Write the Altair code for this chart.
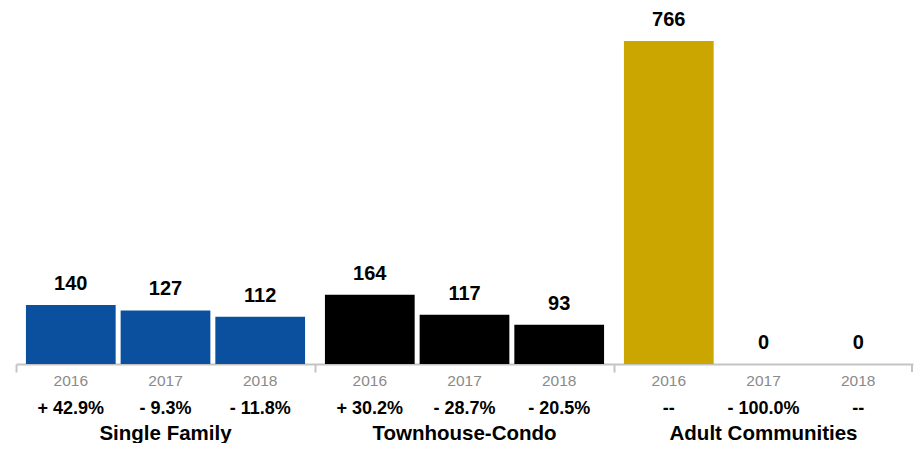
import altair as alt
import pandas as pd

groups = ["Single Family", "Townhouse-Condo", "Adult Communities"]
years = ["2016", "2017", "2018"]
single_family = [140, 127, 112]
townhouse_condo = [164, 117, 93]
adult_communities = [766, 0, 0]
pct_single_family = ["+ 42.9%", "- 9.3%", "- 11.8%"]
pct_townhouse_condo = ["+ 30.2%", "- 28.7%", "- 20.5%"]
pct_adult_communities = ["--", "- 100.0%", "--"]
colors = ["#0B4F9F", "#000000", "#CBA600"]

rows = []
for g, vals, pcts in zip(groups,
                         [single_family, townhouse_condo, adult_communities],
                         [pct_single_family, pct_townhouse_condo, pct_adult_communities]):
    for y, v, p in zip(years, vals, pcts):
        rows.append({"group": g, "year": y, "value": v, "pct": p})
df = pd.DataFrame(rows)

W, H = 897, 323
FONT = "Liberation Sans"
AXIS_GREY = "#c4c4c4"

x = alt.X("group:N", sort=groups,
          scale=alt.Scale(paddingInner=0, paddingOuter=0),
          axis=alt.Axis(labels=False, title=None, domain=True, domainColor=AXIS_GREY,
                        domainWidth=2, ticks=True, tickColor=AXIS_GREY, tickWidth=2,
                        tickSize=8, bandPosition=0, grid=False))
xo = alt.XOffset("year:N", sort=years,
                 scale=alt.Scale(paddingInner=0.0526, paddingOuter=0.105))
y = alt.Y("value:Q", scale=alt.Scale(domain=[0, max(adult_communities)], nice=False),
          axis=None)

base = alt.Chart(df)

bars = base.mark_bar().encode(
    x=x, xOffset=xo, y=y,
    color=alt.Color("group:N", scale=alt.Scale(domain=groups, range=colors), legend=None),
)

val_text = base.mark_text(font=FONT, fontWeight="bold", fontSize=20, baseline="alphabetic",
                          dy=-15, color="#000").encode(
    x=x, xOffset=xo, y=y, text="value:Q")

year_text = base.mark_text(font=FONT, fontSize=15.5, color="#8a8a8a",
                           baseline="alphabetic").encode(
    x=x, xOffset=xo, y=alt.value(H + 22), text="year:N")

pct_text = base.mark_text(font=FONT, fontWeight="bold", fontSize=18, color="#000",
                          baseline="alphabetic").encode(
    x=x, xOffset=xo, y=alt.value(H + 50), text="pct:N")

grp_df = pd.DataFrame({"group": groups})
grp_text = alt.Chart(grp_df).mark_text(font=FONT, fontWeight="bold", fontSize=20.5,
                                       color="#000", baseline="alphabetic").encode(
    x=alt.X("group:N", sort=groups), y=alt.value(H + 76), text="group:N")

end_tick = alt.Chart(grp_df.head(1)).mark_rule(color=AXIS_GREY, strokeWidth=2).encode(
    x=alt.value(W - 1), y=alt.value(H), y2=alt.value(H + 8))

chart = alt.layer(bars, val_text, year_text, pct_text, grp_text, end_tick).properties(
    width=W, height=H,
    autosize=alt.AutoSizeParams(type="none"),
    padding={"left": 8, "top": 33, "right": 1, "bottom": 79},
).configure_view(stroke=None)

chart.save("out.html", embed_options={"renderer": "svg", "actions": False})
